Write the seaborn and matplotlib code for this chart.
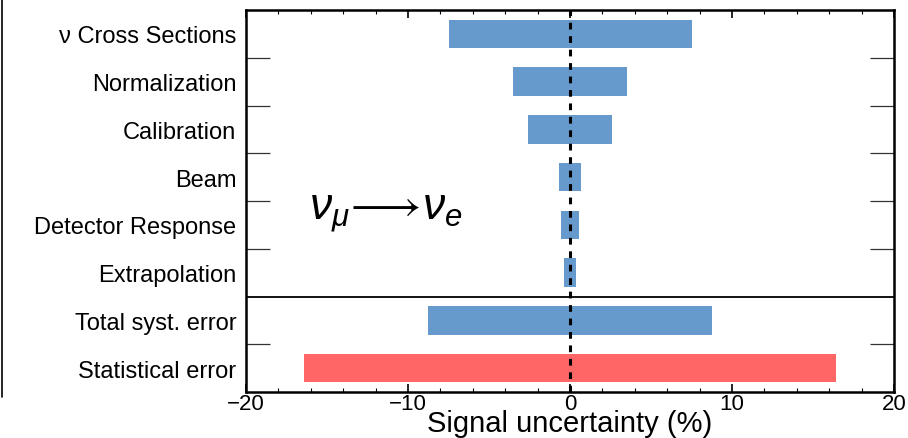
import numpy as np
import pandas as pd
import matplotlib
matplotlib.use("Agg")
import matplotlib.pyplot as plt
import seaborn as sns
from matplotlib.lines import Line2D

# Data (symmetric uncertainties, %)
categories = ['ν Cross Sections', 'Normalization', 'Calibration', 'Beam',
              'Detector Response', 'Extrapolation', 'Total syst. error',
              'Statistical error']
uncertainty = [7.5, 3.5, 2.6, 0.7, 0.57, 0.34, 8.75, 16.4]
bar_colors = ['#6699CC'] * 7 + ['#FF6666']
x_ticks = [-20, -10, 0, 10, 20]

sns.set_style('ticks')
plt.rcParams['font.family'] = ['Liberation Sans', 'DejaVu Sans']
plt.rcParams['mathtext.fontset'] = 'custom'
plt.rcParams['mathtext.it'] = 'Liberation Sans:italic'
plt.rcParams['mathtext.rm'] = 'Liberation Sans'
for k in ['text.color', 'axes.labelcolor', 'xtick.color', 'ytick.color', 'axes.edgecolor']:
    plt.rcParams[k] = 'black'

df = pd.DataFrame({'category': categories, 'up': uncertainty})
df['down'] = -df['up']

fig = plt.figure(figsize=(9.08, 4.39), dpi=100)
ax = fig.add_axes([246 / 908, 1 - 393 / 439, (894 - 246) / 908, (393 - 11) / 439])

# draw each bar as two halves around zero
for col in ['up', 'down']:
    sns.barplot(data=df, x=col, y='category', hue='category', palette=bar_colors,
                order=categories, legend=False, width=0.6, linewidth=0,
                saturation=1, ax=ax)

ax.set_xlim(-20, 20)
ax.set_ylim(7.5, -0.5)
ax.axvline(0, color='black', lw=2.2, ls=(0, (2.2, 2.2)))
ax.axhline(5.5, color='black', lw=1.3)

ax.set_xticks(x_ticks)
ax.set_xticklabels([f'{t}'.replace('-', '−') for t in x_ticks], fontsize=16)
ax.set_xticks(np.arange(-20, 21, 2), minor=True)
ax.tick_params(axis='x', which='major', direction='in', length=6, width=1.2,
               top=True, bottom=True, pad=0.5)
ax.tick_params(axis='x', which='minor', direction='in', length=3, width=0.8,
               top=True, bottom=True)

ax.set_yticks(range(len(categories)))
ax.set_yticklabels(categories, fontsize=17)
ax.set_yticks([0.5, 1.5, 2.5, 3.5, 4.5, 6.5], minor=True)
ax.tick_params(axis='y', which='major', length=0, pad=7)
ax.tick_params(axis='y', which='minor', direction='in', length=17, width=0.9,
               left=True, right=True, color='#333333')

ax.set_xlabel('')
ax.set_ylabel('')
# x label placed in figure coords so it sits at the bottom edge like the reference
fig.text(570 / 908, 1 / 439, 'Signal uncertainty (%)', fontsize=21,
         ha='center', va='bottom')
for s in ax.spines.values():
    s.set_linewidth(1.8)
    s.set_visible(True)

ax.text(-11.4, 3.75, r'$\nu_{\mu}\!\longrightarrow\!\nu_{e}$', fontsize=32,
        ha='center', va='center')

fig.add_artist(Line2D([0.002, 0.002], [1, 1 - 398 / 439], color='black',
                      lw=1.2, transform=fig.transFigure))

fig.savefig('out.png', dpi=100)
